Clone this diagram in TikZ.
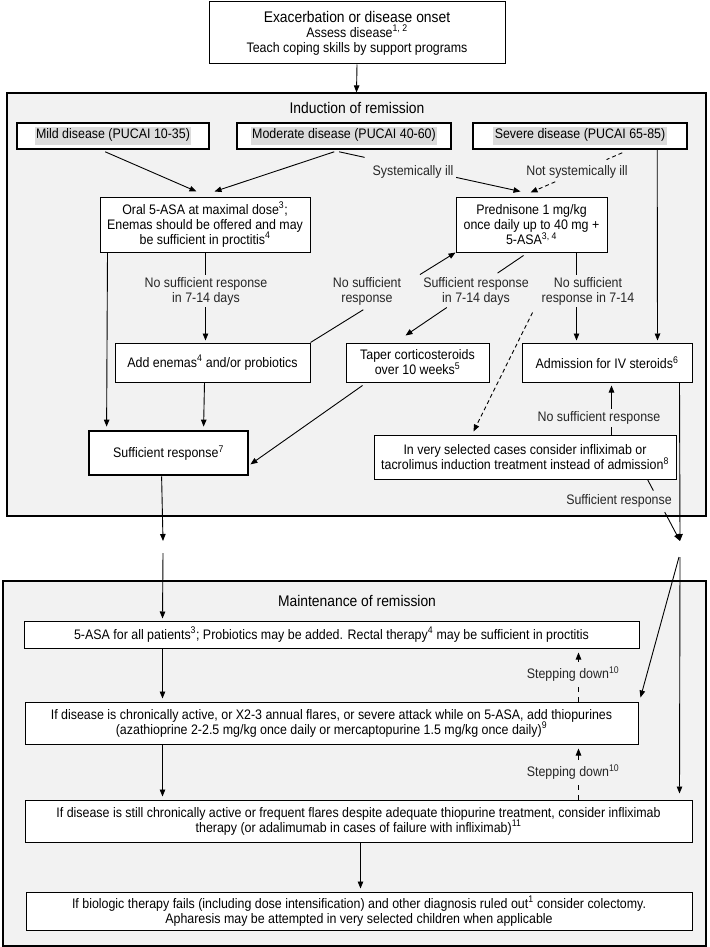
\documentclass[tikz,border=0pt]{standalone}
\usepackage{fontspec}
\setmainfont{Liberation Sans}[FakeStretch=0.9]
\usetikzlibrary{arrows.meta,calc}
\definecolor{bgc}{HTML}{F2F2F2}
\definecolor{hlc}{HTML}{DCDCDC}
\newcommand{\hlbox}[1]{{\setlength{\fboxsep}{1.5pt}\colorbox{hlc}{\strut #1}}}
\newcommand{\sps}[1]{\textsuperscript{#1}}
\begin{document}
\begin{tikzpicture}[x=1pt,y=-1pt,
  txt/.style={font=\fontsize{13.8}{15}\selectfont},
  box/.style={draw, fill=white, line width=1pt, align=center, inner sep=0pt, txt},
  rowbox/.style={box, line width=1.6pt},
  group/.style={draw, fill=bgc, line width=1.2pt, inner sep=0pt},
  title/.style={font=\fontsize{15.4}{17}\selectfont},
  lbl/.style={fill=bgc, inner sep=2.5pt, align=center, txt, text=black!85},
  arr/.style={-{Triangle[length=7pt,width=5.5pt]}},
  conn/.style={line width=0.9pt},
  dsh/.style={dash pattern=on 4pt off 3pt},
  sdsh/.style={dash pattern=on 5pt off 5pt}
]
\useasboundingbox (0,0) rectangle (709,947);
\fill[white] (0,0) rectangle (709,947);

% group boxes
\node[group, minimum width=699pt, minimum height=423pt] (ind) at (356.5,304.5) {};
\node[group, minimum width=703pt, minimum height=365pt] (maint) at (354.5,763.5) {};
\node[title] (indt) at (357,108) {Induction of remission};
\node[title] (maintt) at (357,601) {Maintenance of remission};

% nodes
\node[box, minimum width=296pt, minimum height=62pt] (top) at (357,33)
  {{\fontsize{15.4}{16}\selectfont Exacerbation or disease onset}\\Assess disease\sps{1, 2}\\Teach coping skills by support programs};
\node[rowbox, minimum width=192pt, minimum height=26pt] (mild) at (113,136) {\hlbox{Mild disease (PUCAI 10-35)}};
\node[rowbox, minimum width=214pt, minimum height=26pt] (mod) at (344,136) {\hlbox{Moderate disease (PUCAI 40-60)}};
\node[rowbox, minimum width=214pt, minimum height=26pt] (sev) at (580,136) {\hlbox{Severe disease (PUCAI 65-85)}};
\node[box, minimum width=210pt, minimum height=55pt] (oral) at (205,224.5)
  {Oral 5-ASA at maximal dose\sps{3};\\Enemas should be offered and may\\be sufficient in proctitis\sps{4}};
\node[box, minimum width=151pt, minimum height=55pt] (pred) at (531.5,224.5)
  {Prednisone 1 mg/kg\\once daily up to 40 mg +\\5-ASA\sps{3, 4}};
\node[box, minimum width=195pt, minimum height=39pt] (enem) at (212.5,362.5) {Add enemas\sps{4} and/or probiotics};
\node[box, minimum width=143pt, minimum height=39pt] (taper) at (417.5,362.5) {Taper corticosteroids\\over 10 weeks\sps{5}};
\node[box, minimum width=170pt, minimum height=39pt] (adm) at (607,362.5) {Admission for IV steroids\sps{6}};
\node[box, line width=2.8pt, minimum width=159pt, minimum height=44pt] (suff) at (168.5,453) {Sufficient response\sps{7}};
\node[box, minimum width=302pt, minimum height=44pt] (vsel) at (525,457)
  {In very selected cases consider infliximab or\\tacrolimus induction treatment instead of admission\sps{8}};
\node[box, minimum width=615pt, minimum height=27pt] (asa) at (331.5,634.5)
  {5-ASA for all patients\sps{3}; Probiotics may be added. Rectal therapy\sps{4} may be sufficient in proctitis};
\node[box, minimum width=613pt, minimum height=42pt] (thio) at (331.5,723)
  {If disease is chronically active, or X2-3 annual flares, or severe attack while on 5-ASA, add thiopurines\\(azathioprine 2-2.5 mg/kg once daily or mercaptopurine 1.5 mg/kg once daily)\sps{9}};
\node[box, minimum width=667pt, minimum height=42pt] (infl) at (358.5,821)
  {If disease is still chronically active or frequent flares despite adequate thiopurine treatment, consider infliximab\\therapy (or adalimumab in cases of failure with infliximab)\sps{11}};
\node[box, minimum width=666pt, minimum height=38pt] (final) at (359,911)
  {If biologic therapy fails (including dose intensification) and other diagnosis ruled out\sps{1} consider colectomy.\\Apharesis may be attempted in very selected children when applicable};

% free coordinates
\coordinate (s1) at ($(mod.south west)+(103,2)$);
\coordinate (s2) at ($(pred.north west)+(65,-5)$);
\coordinate (n1) at ($(sev.south west)+(150,3)$);
\coordinate (n2) at ($(pred.north west)+(75,-4)$);
\coordinate (p1) at ($(pred.south west)+(68,3)$);
\coordinate (p2) at ($(taper.north west)+(60,-7)$);
\coordinate (d1) at ($(pred.south west)+(77,60)$);
\coordinate (d2) at ($(vsel.north west)+(100,-3)$);
\coordinate (v1) at ($(vsel.south west)+(274,0)$);
\coordinate (jR) at (680,541);
\coordinate (jL) at (163,541);
\coordinate (jL2) at (163,553);
\coordinate (jR2) at (679,557);

% connectors
\begin{scope}[conn]
\draw[arr] (top.south) -- (ind.north);
\draw[arr] ($(mild.south west)+(89,2)$) -- ($(oral.north west)+(97,-5)$);
\draw[arr] ($(mod.south west)+(98,2)$) -- ($(oral.north west)+(115,-5)$);
\draw (s1) -- ($(s1)!0.14!(s2)$);
\draw[arr] ($(s1)!0.64!(s2)$) -- (s2);
\draw[dsh] (n1) -- ($(n1)!0.17!(n2)$);
\draw[dsh,arr] ($(n1)!0.66!(n2)$) -- (n2);
\draw[arr] ($(sev.south west)+(185,0)$) -- ($(adm.north west)+(136,-2)$);
\draw[arr] ($(oral.south west)+(106,0)$) -- ($(enem.north west)+(91,-2)$);
\draw[arr] ($(oral.south west)+(8,0)$) -- ($(suff.north west)+(19,-3)$);
\draw (enem.north east) -- ($(enem.north east)!0.364!(pred.south west)$);
\draw[arr] ($(enem.north east)!0.755!(pred.south west)$) -- (pred.south west);
\draw (p1) -- ($(p1)!0.22!(p2)$);
\draw[arr] ($(p1)!0.65!(p2)$) -- (p2);
\draw[arr] ($(pred.south west)+(121,0)$) -- ($(adm.north west)+(55,-2)$);
\draw[dsh,arr] (d1) -- (d2);
\draw[arr] ($(enem.south west)+(90,0)$) -- ($(suff.north west)+(116,-3)$);
\draw[arr] ($(taper.south west)+(17,3)$) -- ($(suff.south east)+(1,-12)$);
\draw[arr] ($(vsel.north west)+(238,0)$) -- ($(adm.south west)+(90,3)$);
\draw[arr] ($(adm.south west)+(158,0)$) -- (jR);
\draw (v1) -- ($(v1)!0.18!(jR)$);
\draw[arr] ($(v1)!0.53!(jR)$) -- (jR);
\draw[arr] ($(suff.south west)+(74,0)$) -- (jL);
\draw[arr] (jL2) -- ($(asa.north west)+(139,-2)$);
\draw[arr] (jR2) -- ($(thio.north east)+(2,-4)$);
\draw[arr] ($(jR2)+(1,0)$) -- ($(infl.north west)+(655,-6)$);
\draw[arr] ($(asa.south west)+(139,0)$) -- ($(thio.north west)+(138,-3)$);
\draw[arr] ($(thio.south west)+(138,0)$) -- ($(infl.north west)+(138,-3)$);
\draw[arr] ($(infl.south west)+(336,0)$) -- ($(final.north west)+(335,-3)$);
\draw[sdsh,arr] ($(thio.north west)+(554,0)$) -- ($(asa.south west)+(555,4)$);
\draw[sdsh,arr] ($(infl.north west)+(554,0)$) -- ($(thio.south west)+(554,4)$);
\end{scope}

% labels
\node[lbl] (l1) at (413,172) {Systemically ill};
\node[lbl] (l2) at (577,172) {Not systemically ill};
\node[lbl] (l3) at (206,291) {No sufficient response\\in 7-14 days};
\node[lbl] (l4) at (367,291) {No sufficient\\response};
\node[lbl] (l5) at (476,291) {Sufficient response\\in 7-14 days};
\node[lbl] (l6) at (588,291) {No sufficient\\response in 7-14};
\node[lbl] (l7) at (599,418) {No sufficient response};
\node[lbl] (l8) at (619,501) {Sufficient response};
\node[lbl] (l9) at (573,674) {Stepping down\sps{10}};
\node[lbl] (l10) at (573,772) {Stepping down\sps{10}};
\end{tikzpicture}
\end{document}
